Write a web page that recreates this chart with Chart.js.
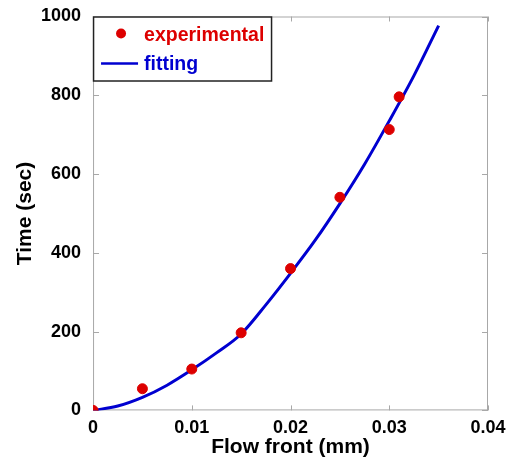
<!DOCTYPE html>
<html>
<head>
<meta charset="utf-8">
<script src="https://cdn.jsdelivr.net/npm/chart.js@4.4.1/dist/chart.umd.min.js"></script>
<style>
    html, body { margin: 0; padding: 0; background: #fff; }
    #wrap { width: 517px; height: 468px; }
</style>
</head>
<body>
<div id="wrap"><canvas id="flowChart" width="517" height="468"></canvas></div>
<script>
// measured flow front positions (mm) and times (sec)
const flowFront = [0, 0.005, 0.01, 0.015, 0.02, 0.025, 0.03, 0.031];
const timeMeasured = [0, 55, 105, 197, 360, 541, 713, 796];

// fitted curve
const fitFront = [0, 0.0025, 0.005, 0.0075, 0.01, 0.0125, 0.015, 0.0175, 0.02, 0.0225, 0.025, 0.0275, 0.03, 0.0325, 0.035];
const fitTime = [0, 11, 33, 64, 103, 146, 194, 268, 348, 432, 525, 625, 735, 850, 977];

const xTicks = [0, 0.01, 0.02, 0.03, 0.04];
const yTicks = [0, 200, 400, 600, 800, 1000];

const RED = "#dd0000";
const BLUE = "#0000d0";
const FONT = "'Liberation Sans', Arial, sans-serif";

// grey box round the plot with short inward ticks on all four sides
const frameTicks = {
    id: "frameTicks",
    beforeDatasetsDraw(chart) {
        const { ctx, chartArea: a, scales } = chart;
        ctx.save();
        ctx.strokeStyle = "#a8a8a8";
        ctx.lineWidth = 1;
        ctx.strokeRect(a.left + 0.5, a.top + 0.5, a.right - a.left - 1, a.bottom - a.top - 1);
        ctx.beginPath();
        xTicks.forEach(v => {
            const px = Math.round(scales.x.getPixelForValue(v)) + 0.5;
            ctx.moveTo(px, a.bottom); ctx.lineTo(px, a.bottom - 5);
            ctx.moveTo(px, a.top); ctx.lineTo(px, a.top + 5);
        });
        yTicks.forEach(v => {
            const py = Math.round(scales.y.getPixelForValue(v)) + 0.5;
            ctx.moveTo(a.left, py); ctx.lineTo(a.left + 6, py);
            ctx.moveTo(a.right, py); ctx.lineTo(a.right - 6, py);
        });
        ctx.stroke();
        ctx.restore();
    }
};

// axis titles, placed by hand
const axisTitles = {
    id: "axisTitles",
    afterDraw(chart) {
        const { ctx, chartArea: a } = chart;
        ctx.save();
        ctx.fillStyle = "#000";
        ctx.font = "bold 21px " + FONT;
        ctx.textAlign = "center";
        ctx.textBaseline = "middle";
        ctx.fillText("Flow front (mm)", (a.left + a.right) / 2, 447);
        ctx.translate(25, (a.top + a.bottom) / 2);
        ctx.rotate(-Math.PI / 2);
        ctx.fillText("Time (sec)", 0, 0);
        ctx.restore();
    }
};

// boxed legend in the upper left corner of the plot
const boxLegend = {
    id: "boxLegend",
    afterDatasetsDraw(chart) {
        const { ctx, chartArea: a } = chart;
        const x = a.left, y = a.top, w = 178, h = 64;
        ctx.save();
        ctx.fillStyle = "#fff";
        ctx.fillRect(x, y, w, h);
        ctx.strokeStyle = "#222";
        ctx.lineWidth = 1.5;
        ctx.strokeRect(x + 0.5, y + 0.5, w, h);

        ctx.fillStyle = RED;
        ctx.beginPath();
        ctx.arc(x + 28, y + 17, 5, 0, Math.PI * 2);
        ctx.fill();

        ctx.strokeStyle = BLUE;
        ctx.lineWidth = 2.5;
        ctx.beginPath();
        ctx.moveTo(x + 8, y + 47);
        ctx.lineTo(x + 45, y + 47);
        ctx.stroke();

        ctx.font = "bold 19.5px " + FONT;
        ctx.textBaseline = "middle";
        ctx.fillStyle = RED;
        ctx.fillText("experimental", x + 51, y + 19);
        ctx.fillStyle = BLUE;
        ctx.fillText("fitting", x + 51, y + 48);
        ctx.restore();
    }
};

const ctx = document.getElementById("flowChart").getContext("2d");

new Chart(ctx, {
    type: "scatter",
    data: {
        datasets: [{
            label: "fitting",
            data: fitFront.map((x, i) => ({ x: x, y: fitTime[i] })),
            showLine: true,
            borderColor: BLUE,
            borderWidth: 3,
            pointRadius: 0,
            cubicInterpolationMode: "monotone",
            order: 2
        }, {
            label: "experimental",
            data: flowFront.map((x, i) => ({ x: x, y: timeMeasured[i] })),
            backgroundColor: RED,
            borderColor: RED,
            pointRadius: 5,
            pointHoverRadius: 5,
            order: 1
        }]
    },
    options: {
        responsive: false,
        animation: false,
        layout: {
            autoPadding: false,
            padding: { left: 29, right: 29, top: 16, bottom: 22 }
        },
        scales: {
            x: {
                type: "linear",
                min: 0,
                max: 0.04,
                afterBuildTicks: scale => { scale.ticks = xTicks.map(v => ({ value: v })); },
                grid: { display: false, drawTicks: false },
                border: { display: false },
                ticks: {
                    color: "#000",
                    padding: 7,
                    maxRotation: 0,
                    font: { family: FONT, size: 18, weight: "bold" },
                    callback: v => String(v)
                }
            },
            y: {
                type: "linear",
                min: 0,
                max: 1000,
                afterBuildTicks: scale => { scale.ticks = yTicks.map(v => ({ value: v })); },
                grid: { display: false, drawTicks: false },
                border: { display: false },
                ticks: {
                    color: "#000",
                    padding: 12,
                    font: { family: FONT, size: 18, weight: "bold", lineHeight: 0.5 },
                    callback: v => String(v)
                }
            }
        },
        plugins: {
            legend: { display: false },
            tooltip: { enabled: false }
        }
    },
    plugins: [frameTicks, axisTitles, boxLegend]
});
</script>
</body>
</html>
